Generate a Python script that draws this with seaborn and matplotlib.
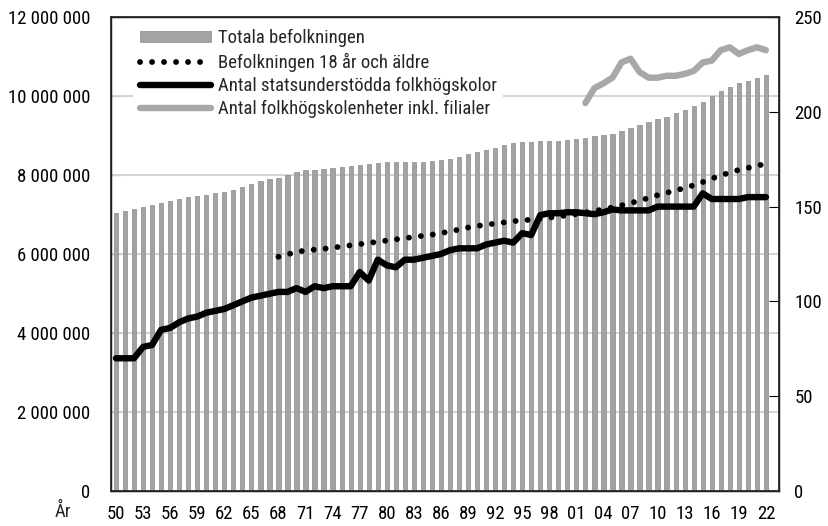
import matplotlib
matplotlib.use("Agg")
import matplotlib.pyplot as plt
from matplotlib.ticker import FuncFormatter, FixedLocator
from matplotlib.patches import Patch
from matplotlib.lines import Line2D
from matplotlib import font_manager
import seaborn as sns
import pandas as pd
import numpy as np

# ---------------- data ----------------
years = list(range(1950, 2023))
total_pop = [7.04, 7.10, 7.15, 7.19, 7.23, 7.29, 7.34, 7.39, 7.44, 7.47,
             7.50, 7.54, 7.58, 7.63, 7.70, 7.77, 7.84, 7.89, 7.93, 8.00,
             8.08, 8.12, 8.13, 8.14, 8.18, 8.21, 8.24, 8.26, 8.28, 8.30,
             8.32, 8.32, 8.33, 8.33, 8.34, 8.36, 8.38, 8.41, 8.46, 8.53,
             8.59, 8.64, 8.69, 8.75, 8.82, 8.84, 8.84, 8.85, 8.85, 8.86,
             8.88, 8.91, 8.94, 8.98, 9.01, 9.05, 9.11, 9.18, 9.26, 9.34,
             9.42, 9.48, 9.56, 9.64, 9.75, 9.85, 9.995, 10.12, 10.23, 10.33,
             10.38, 10.45, 10.52]  # millions

adult_years = list(range(1968, 2023))
adult_pop = [5.93, 5.99, 6.05, 6.09, 6.11, 6.13, 6.16, 6.19, 6.22, 6.25,
             6.28, 6.31, 6.34, 6.37, 6.40, 6.43, 6.46, 6.49, 6.53, 6.57,
             6.62, 6.67, 6.71, 6.74, 6.77, 6.80, 6.83, 6.85, 6.87, 6.89,
             6.92, 6.95, 6.98, 7.01, 7.05, 7.09, 7.13, 7.18, 7.23, 7.29,
             7.35, 7.42, 7.49, 7.55, 7.61, 7.67, 7.74, 7.82, 7.91, 7.99,
             8.06, 8.13, 8.18, 8.23, 8.29]  # millions

schools = [70, 70, 70, 76, 77, 85, 86, 89, 91, 92,
           94, 95, 96, 98, 100, 102, 103, 104, 105, 105,
           107, 105, 108, 107, 108, 108, 108, 115.5, 111, 122,
           119, 118, 122, 122, 123, 124, 125, 127, 128, 128,
           128, 130, 131, 132, 131, 136, 135, 145.5, 146.5, 146.5,
           147, 147, 146.5, 146, 147, 148.5, 148, 148, 148, 148,
           150, 150, 150, 150, 150, 157, 154, 154, 154, 154,
           155, 155, 155]

unit_years = list(range(2002, 2023))
units = [204.6, 212.5, 215, 218, 226, 228, 221, 218, 218, 219,
         219, 220, 221.5, 226, 227, 232.5, 234, 230.5, 232.5, 234, 232.5]

labels = ["Totala befolkningen",
          "Befolkningen 18 år och äldre",
          "Antal statsunderstödda folkhögskolor",
          "Antal folkhögskolenheter inkl. filialer"]

# ---------------- style ----------------
sns.set_theme(style="white")
available = {f.name for f in font_manager.fontManager.ttflist}
narrow = [n for n in ["Roboto Condensed", "Liberation Sans Narrow", "Open Sans Condensed",
                      "Arial Narrow", "Nimbus Sans Narrow"] if n in available]
if narrow:
    plt.rcParams["font.family"] = [narrow[0], "DejaVu Sans"]
    FS = 13.5
else:
    plt.rcParams["font.family"] = ["Liberation Sans", "DejaVu Sans"]
    FS = 11.5

bar_face = "#a3a3a3"
bar_edge = "#8a8a8a"
gray_line = "#a8a8a8"

df_tot = pd.DataFrame({"year": years, "pop": np.array(total_pop) * 1e6})
df_ad = pd.DataFrame({"year": adult_years, "pop": np.array(adult_pop) * 1e6})
df_sc = pd.DataFrame({"year": years, "n": schools})
df_un = pd.DataFrame({"year": unit_years, "n": units})

fig = plt.figure(figsize=(8.29, 5.26), dpi=100)
ax = fig.add_axes([111 / 829, 1 - 491 / 526, (779 - 111) / 829, (491 - 17) / 526])

sns.barplot(data=df_tot, x="year", y="pop", native_scale=True, ax=ax,
            color=bar_face, edgecolor=bar_edge, linewidth=0.5, width=0.47,
            saturation=1, zorder=2)

dot_lw = 4.2
dot_style = (0, (0.01, 8.6 / dot_lw))
sns.lineplot(data=df_ad, x="year", y="pop", ax=ax, color="black", lw=dot_lw,
             zorder=3)
ax.lines[-1].set_linestyle(dot_style)
ax.lines[-1].set_dash_capstyle("round")

ax.set_ylim(0, 12e6)
ax.set_xlim(1949.45, 2023.45)
ax.yaxis.set_major_locator(FixedLocator(np.arange(0, 12e6 + 1, 2e6)))
ax.yaxis.set_major_formatter(FuncFormatter(lambda v, p: f"{int(v):,}".replace(",", " ")))
for v in np.arange(2e6, 12e6, 2e6):
    ax.axhline(v, color="#d4d4d4", lw=1.4, zorder=1)

ax.set_xticks(years)
ax.set_xticklabels([f"{y % 100:02d}" if (y - 1950) % 3 == 0 else "" for y in years])
ax.tick_params(axis="x", direction="in", length=4, width=0.8, pad=10, labelsize=FS, colors="black")
ax.tick_params(axis="y", direction="in", length=7, width=0.8, pad=15, labelsize=FS, colors="black")
ax.set_xlabel("")
ax.set_ylabel("")
for s in ax.spines.values():
    s.set_color("black")
    s.set_linewidth(1.0)

ax2 = ax.twinx()
sns.lineplot(data=df_sc, x="year", y="n", ax=ax2, color="black", lw=4.6,
             solid_joinstyle="round", solid_capstyle="round", zorder=4)
sns.lineplot(data=df_un, x="year", y="n", ax=ax2, color=gray_line, lw=4.6,
             solid_joinstyle="round", solid_capstyle="round", zorder=4)
ax2.set_ylim(0, 250)
ax2.set_yticks(range(0, 251, 50))
ax2.tick_params(axis="y", direction="in", length=7, width=0.8, pad=11, labelsize=FS, colors="black")
ax2.set_ylabel("")
ax2.set_xlim(ax.get_xlim())

handles = [
    Patch(facecolor=bar_face, edgecolor=bar_edge, linewidth=0.5),
    Line2D([], [], color="black", lw=dot_lw, linestyle=dot_style, dash_capstyle="round"),
    Line2D([], [], color="black", lw=4.6, solid_capstyle="round"),
    Line2D([], [], color=gray_line, lw=4.6, solid_capstyle="round"),
]
leg = ax2.legend(handles, labels, loc="upper left", bbox_to_anchor=(0.025, 1.0),
                 frameon=True, fontsize=FS, handlelength=3.8, handleheight=0.5,
                 handletextpad=0.35, labelspacing=0.28, borderpad=0.35,
                 borderaxespad=0.3, fancybox=False)
leg.get_frame().set_facecolor("white")
leg.get_frame().set_edgecolor("none")
leg.get_frame().set_alpha(1)

fig.text(63 / 829, 1 - 512 / 526, "År", fontsize=FS, ha="center", va="center")

fig.savefig("out.png", dpi=100)
